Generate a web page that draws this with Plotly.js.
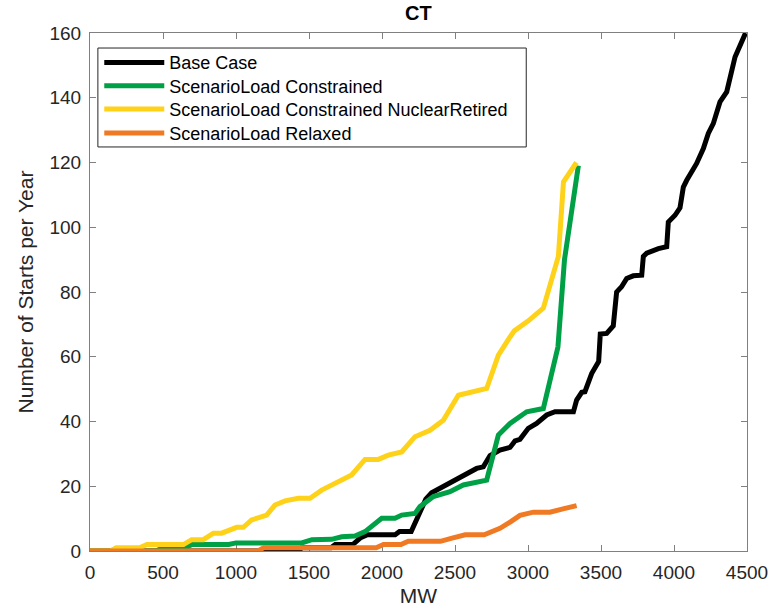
<!DOCTYPE html>
<html>
<head>
<meta charset="utf-8">
<script src="https://cdn.plot.ly/plotly-3.0.1.min.js"></script>
<style>html,body{margin:0;padding:0;background:#fff;}#chart{width:779px;height:611px;}</style>
</head>
<body>
<div id="chart"></div>
<script>
// Series names
const seriesNames = ["Base Case", "ScenarioLoad Constrained", "ScenarioLoad Constrained NuclearRetired", "ScenarioLoad Relaxed"];

// Base Case (MW, starts per year)
const baseMW = [0,1430,1450,1650,1680,1800,1850,1900,2090,2120,2200,2250,2300,2340,2420,2466,2511,2568,2648,2694,2740,2808,2877,2911,2945,3002,3059,3128,3185,3311,3333,3368,3390,3436,3470,3484,3495,3539,3584,3607,3641,3676,3721,3779,3790,3813,3893,3950,3961,4007,4041,4064,4087,4155,4201,4235,4269,4315,4361,4418,4490];
const baseStarts = [0,0,1,1,2,2,4,5,5,6,6,11,16,18,20,21,22.4,23.8,25.5,26,29.5,31.2,32,34,34.5,37.9,39.4,42,43,43,46.6,49,49.2,54.8,58,58.5,67,67.2,69.5,80,81.6,84.2,85,85.2,91,92,93.4,94,101.6,103.7,106,112.4,114.5,119.7,124.3,129,132,138.7,141.8,152.6,160];

// ScenarioLoad Constrained
const conMW = [0,450,500,650,700,950,1000,1450,1520,1655,1724,1815,1884,1998,2089,2135,2226,2260,2352,2466,2557,2717,2797,2877,2991,3105,3205,3250,3345];
const conStarts = [0,0,1,1,2,2,2.5,2.5,3.5,3.6,4.4,4.6,6,10.1,10.1,11.1,11.6,13.7,16.8,18.3,20.4,21.9,35.8,39.4,43,44,63,90,119];

// ScenarioLoad Constrained NuclearRetired
const nucMW = [0,140,180,340,390,640,696,776,845,902,1005,1050,1107,1210,1267,1336,1427,1507,1587,1678,1792,1884,1975,2043,2135,2226,2329,2420,2523,2717,2797,2877,2906,3000,3105,3208,3243,3332];
const nucStarts = [0,0,1,1,2,2,3.5,3.5,5.5,5.5,7.3,7.3,9.6,11.1,14.2,15.5,16.3,16.3,18.8,20.7,23.5,28.3,28.3,29.6,30.6,35.3,37.3,40.4,48.1,50.2,60.5,66.1,68,71,75,91,114,120];

// ScenarioLoad Relaxed
const relMW = [0,1150,1190,1960,2010,2130,2180,2400,2480,2570,2700,2760,2808,2880,2945,3037,3150,3240,3333];
const relStarts = [0,0,1,1,2,2,3,3,4,5,5,6,7,9,11,12,12,13,14];

const xTicks = [0,500,1000,1500,2000,2500,3000,3500,4000,4500];
const yTicks = [0,20,40,60,80,100,120,140,160];

const colors = ["#000000", "#00A046", "#FFD21A", "#F07A24"];
const xs = [baseMW, conMW, nucMW, relMW];
const ys = [baseStarts, conStarts, nucStarts, relStarts];
const legendIds = ["legend", "legend2", "legend3", "legend4"];

const traces = seriesNames.map((n, i) => ({
  x: xs[i], y: ys[i], name: n, type: "scatter", mode: "lines",
  line: {color: colors[i], width: 5}, cliponaxis: false, legend: legendIds[i]
}));

const font = "Liberation Sans, Arial, sans-serif";
const axisCommon = {
  showline: true, mirror: "ticks", linecolor: "#808080", linewidth: 1,
  ticks: "inside", ticklen: 6, tickcolor: "#808080",
  showgrid: false, zeroline: false, layer: "below traces",
  tickfont: {family: font, size: 19, color: "#262626"}
};

// legend rows (paper coords inside plot area)
const rowY = [0.9427, 0.8977, 0.8527, 0.8064];
const legendBase = {
  x: 0.0141, xanchor: "left", yanchor: "middle",
  bgcolor: "rgba(0,0,0,0)", borderwidth: 0,
  font: {family: font, size: 18, color: "#000"},
  itemwidth: 60
};

const layout = {
  width: 779, height: 611,
  margin: {l: 90, r: 32, t: 33, b: 60},
  paper_bgcolor: "#fff", plot_bgcolor: "#fff",
  font: {family: font},
  title: {text: "<b>CT</b>", font: {family: font, size: 20, color: "#000"}, x: 0.537, xanchor: "center", y: 0.979, yanchor: "middle", yref: "container"},
  xaxis: Object.assign({}, axisCommon, {
    range: [0, 4500], tickvals: xTicks, ticktext: xTicks.map(String), ticklabelstandoff: 4,
    title: {text: "MW", font: {family: font, size: 21, color: "#262626"}, standoff: 6}
  }),
  yaxis: Object.assign({}, axisCommon, {
    range: [0, 160], tickvals: yTicks, ticktext: yTicks.map(String), ticklabelstandoff: 4,
    title: {text: "Number of Starts per Year", font: {family: font, size: 21, color: "#262626"}, standoff: 10}
  }),
  showlegend: true,
  shapes: [{type: "rect", xref: "paper", yref: "paper", x0: 0.012, x1: 0.664, y0: 0.780, y1: 0.971,
            line: {color: "#262626", width: 1}, fillcolor: "#fff", layer: "above"}],
  legend: Object.assign({}, legendBase, {y: rowY[0]}),
  legend2: Object.assign({}, legendBase, {y: rowY[1]}),
  legend3: Object.assign({}, legendBase, {y: rowY[2]}),
  legend4: Object.assign({}, legendBase, {y: rowY[3]})
};

Plotly.newPlot("chart", traces, layout, {displayModeBar: false, staticPlot: true});
</script>
</body>
</html>
